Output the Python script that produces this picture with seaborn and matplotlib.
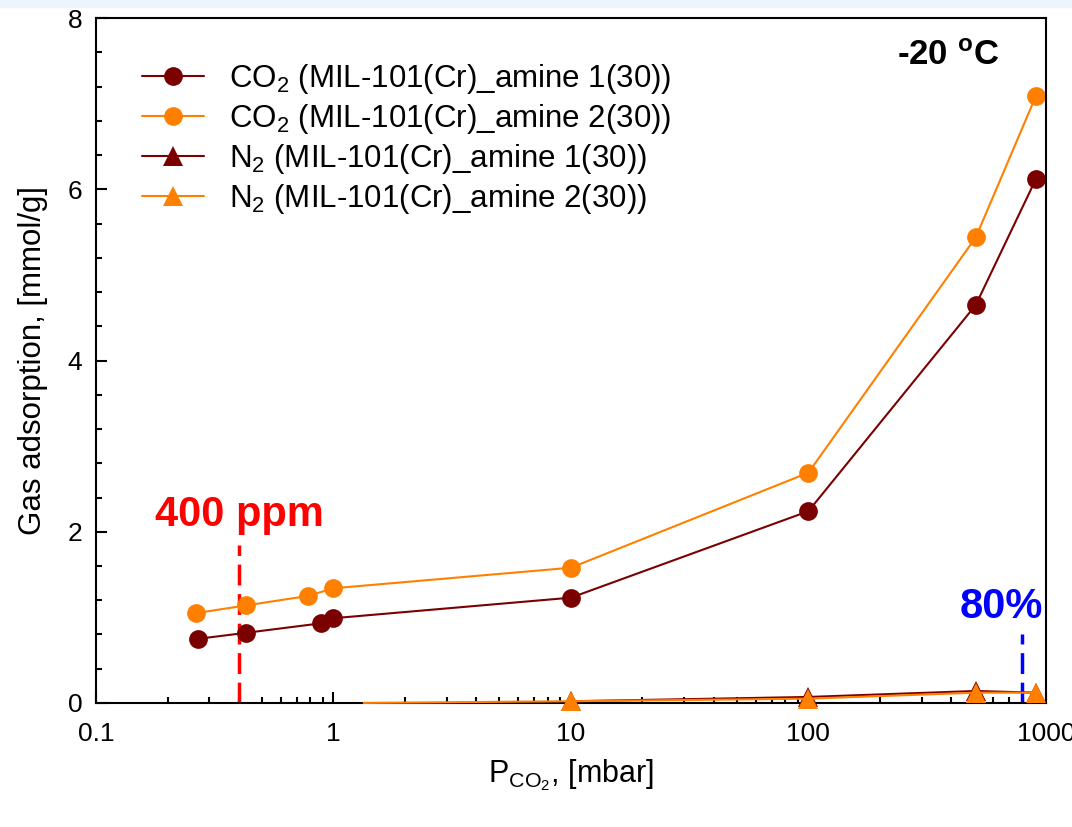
import matplotlib
matplotlib.use('Agg')
import matplotlib.pyplot as plt
from matplotlib.patches import Rectangle
import seaborn as sns

# data
p_co2_1 = [0.27, 0.43, 0.885, 1.0, 10, 100, 507, 908]
q_co2_1 = [0.75, 0.82, 0.93, 0.99, 1.23, 2.24, 4.65, 6.12]

p_co2_2 = [0.264, 0.43, 0.78, 1.0, 10, 100, 507, 908]
q_co2_2 = [1.05, 1.14, 1.25, 1.34, 1.58, 2.69, 5.44, 7.09]

p_n2_1 = [10, 100, 507, 908]
q_n2_1 = [0.02, 0.07, 0.14, 0.12]

p_n2_2 = [1.34, 10, 100, 507, 908]
q_n2_2 = [0.0, 0.02, 0.05, 0.12, 0.12]

labels = [r'CO$_\mathregular{2}$ (MIL-101(Cr)_amine 1(30))',
          r'CO$_\mathregular{2}$ (MIL-101(Cr)_amine 2(30))',
          r'N$_\mathregular{2}$ (MIL-101(Cr)_amine 1(30))',
          r'N$_\mathregular{2}$ (MIL-101(Cr)_amine 2(30))']

dark = '#7b0000'
orange = '#ff8000'

sns.set_style('ticks')
plt.rcParams['font.family'] = ['Liberation Sans', 'DejaVu Sans']
plt.rcParams['mathtext.fontset'] = 'custom'
plt.rcParams['mathtext.rm'] = 'Liberation Sans'
plt.rcParams['mathtext.it'] = 'Liberation Sans:italic'
plt.rcParams['mathtext.bf'] = 'Liberation Sans:bold'
plt.rcParams['text.color'] = 'black'
plt.rcParams['axes.labelcolor'] = 'black'
plt.rcParams['xtick.color'] = 'black'
plt.rcParams['ytick.color'] = 'black'

fig = plt.figure(figsize=(10.72, 8.27), dpi=100)
fig.patches.append(Rectangle((0, 0.991), 1, 0.009, transform=fig.transFigure,
                             color='#eef4fc', zorder=0))
ax = fig.add_axes([0.0896, 0.15, 0.886, 0.828])

common = dict(ax=ax, linewidth=1.5, markeredgewidth=0, sort=False)
sns.lineplot(x=p_co2_1, y=q_co2_1, color=dark, marker='o', markersize=13.5,
             label=labels[0], **common)
sns.lineplot(x=p_co2_2, y=q_co2_2, color=orange, marker='o', markersize=13.5,
             label=labels[1], **common)
sns.lineplot(x=p_n2_1, y=q_n2_1, color=dark, marker='^', markersize=15,
             label=labels[2], clip_on=False, zorder=3, **common)
sns.lineplot(x=p_n2_2, y=q_n2_2, color=orange, marker='^', markersize=15,
             label=labels[3], markevery=[1, 2, 3, 4], clip_on=False, zorder=3,
             **common)

# 400 ppm and 80% markers
ax.plot([0.4, 0.4], [0, 1.85], color='#ff0000', lw=2.5, ls=(0, (6, 2.5)), zorder=1)
ax.plot([790, 790], [0, 0.8], color='#0000ff', lw=2.5, ls=(0, (6, 2.5)), zorder=1)
ax.text(0.4, 2.2, '400 ppm', color='#ff0000', fontsize=30, fontweight='bold',
        ha='center', va='center')
ax.text(650, 1.12, '80%', color='#0000ff', fontsize=30, fontweight='bold',
        ha='center', va='center')
ax.text(0.897, 0.946, r'-20 $^\mathbf{o}$C', transform=ax.transAxes, fontsize=25,
        fontweight='bold', ha='center', va='center')

ax.set_xscale('log')
ax.set_xlim(0.1, 1000)
ax.set_ylim(0, 8)
ax.set_xticks([0.1, 1, 10, 100, 1000])
ax.set_xticklabels(['0.1', '1', '10', '100', '1000'])
ax.set_yticks([0, 2, 4, 6, 8])
ax.set_yticks([i * 0.4 for i in range(21)], minor=True)
ax.tick_params(which='both', direction='in', labelsize=19, width=1.5,
               top=False, right=False)
ax.tick_params(which='major', length=8)
ax.tick_params(axis='x', which='major', pad=14)
ax.tick_params(axis='y', which='major', pad=10)
ax.tick_params(which='minor', length=4)
for s in ax.spines.values():
    s.set_linewidth(1.5)
    s.set_color('black')

ax.set_xlabel(r'P$_{\mathregular{CO_2}}$, [mbar]', fontsize=22, labelpad=8)
ax.set_ylabel('Gas adsorption, [mmol/g]', fontsize=22.5, labelpad=14)

ax.legend(loc='upper left', bbox_to_anchor=(0.035, 0.955), frameon=False, fontsize=22.5,
          handlelength=2.0, handletextpad=0.8, labelspacing=0.2, borderaxespad=0)

fig.savefig('out.png', dpi=100)
